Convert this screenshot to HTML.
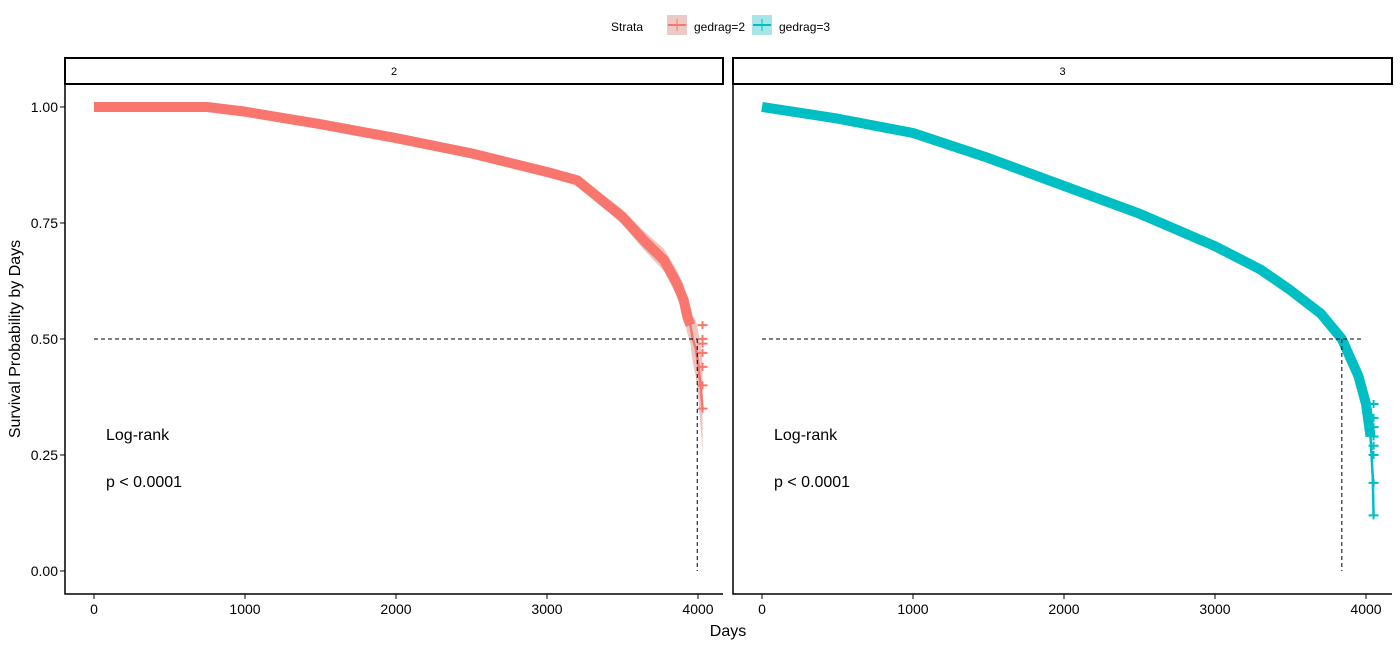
<!DOCTYPE html>
<html><head><meta charset="utf-8"><style>
body{margin:0;background:#fff;font-family:"Liberation Sans",Arial,sans-serif}
svg text{font-family:"Liberation Sans",Arial,sans-serif}
</style></head><body>
<svg id="chart" width="1400" height="646" viewBox="0 0 1400 646">
<g id="legend">
 <text x="611" y="31" font-size="12">Strata</text>
 <g>
  <rect x="667" y="15" width="20" height="20" fill="#ecc9c4"/>
  <line x1="668" y1="25" x2="686" y2="25" stroke="#f8766d" stroke-width="2"/>
  <line x1="677" y1="19" x2="677" y2="31" stroke="#f8766d" stroke-width="1"/>
  <text x="694" y="31" font-size="12">gedrag=2</text>
 </g>
 <g>
  <rect x="752" y="15" width="20" height="20" fill="#a7e6e6"/>
  <line x1="753" y1="25" x2="771" y2="25" stroke="#00bfc4" stroke-width="2"/>
  <line x1="762" y1="19" x2="762" y2="31" stroke="#00bfc4" stroke-width="1"/>
  <text x="779" y="31" font-size="12">gedrag=3</text>
 </g>
</g>
<g id="panels"></g>
<text x="20" y="339" font-size="16" text-anchor="middle" transform="rotate(-90 20 339)">Survival Probability by Days</text>
<text x="728" y="636" font-size="16" text-anchor="middle">Days</text>
</svg>
<script>
const xTicks=[0,1000,2000,3000,4000];
const yTicks=[0,0.25,0.5,0.75,1];
const yTickLabels=["0.00","0.25","0.50","0.75","1.00"];
const panelLabels=["2","3"];
const days2=[0,750,1000,1500,2000,2500,3000,3200,3500,3640,3775,3860,3905,3930,3950,3965,3985,4000,4010,4020,4030];
const surv2=[1,1,0.99,0.963,0.933,0.9,0.86,0.842,0.763,0.713,0.67,0.62,0.584,0.547,0.53,0.5,0.48,0.45,0.42,0.39,0.35];
const ci2=[0,0,0.003,0.005,0.006,0.007,0.009,0.011,0.016,0.02,0.024,0.028,0.032,0.036,0.04,0.05,0.06,0.07,0.08,0.09,0.1];
const days3=[0,500,1000,1500,2000,2500,3000,3300,3500,3700,3840,3950,4000,4030,4045,4050];
const surv3=[1,0.975,0.944,0.89,0.83,0.77,0.70,0.65,0.605,0.555,0.5,0.42,0.36,0.29,0.2,0.12];
const censor2=[0.53,0.5,0.49,0.47,0.44,0.40,0.35];
const censor3=[0.36,0.33,0.31,0.29,0.27,0.25,0.19,0.12];
const medians=[3995,3840];
const hlineEnd=[3995,3980];

const NS="http://www.w3.org/2000/svg";
const panels=[{x0:65,x1:723,zero:94,days:days2,surv:surv2,ci:ci2,col:"#f8766d",band:"#e9c6c1",censor:censor2,tailStart:3950},
              {x0:733,x1:1392,zero:762,days:days3,surv:surv3,ci:null,col:"#00bfc4",band:"#a7e6e6",censor:censor3,tailStart:4030}];
const Y=v=>571-v*464;
function mk(tag,attrs,parent){const e=document.createElementNS(NS,tag);for(const k in attrs)e.setAttribute(k,attrs[k]);parent.appendChild(e);return e;}
const root=document.getElementById('panels');
panels.forEach((p,pi)=>{
 const X=d=>p.zero+d*0.151;
 const g=mk('g',{},root);
 
 
 const strip=mk('rect',{x:p.x0,y:58,width:p.x1-p.x0,height:26,fill:'#fff',stroke:'#000','stroke-width':2},g);
 
 
 const st=mk('text',{x:(p.x0+p.x1)/2,y:75,'font-size':11,'text-anchor':'middle'},g);st.textContent=panelLabels[pi];
 
 
 const ax=mk('path',{d:`M${p.x0} 84 V594 H${p.x1}`,fill:'none',stroke:'#000','stroke-width':1.5},g);
 
 
 if(pi==0){yTicks.forEach((v,i)=>{
  mk('line',{x1:60,x2:65,y1:Y(v),y2:Y(v),stroke:'#000'},g);
  const t=mk('text',{x:58,y:Y(v)+5,'font-size':14,'text-anchor':'end'},g);t.textContent=yTickLabels[i];
  
  
 });}
 xTicks.forEach(d=>{
  mk('line',{x1:X(d),x2:X(d),y1:594,y2:599,stroke:'#000'},g);
  const t=mk('text',{x:X(d),y:614,'font-size':14,'text-anchor':'middle'},g);t.textContent=d;
  
  
 });
 if(p.ci){let up=[],lo=[];p.days.forEach((d,i)=>{up.push(X(d)+','+Y(Math.min(1,p.surv[i]+p.ci[i])));lo.unshift(X(d)+','+Y(p.surv[i]-p.ci[i]));});
  const b=mk('polygon',{points:up.concat(lo).join(' '),fill:p.band},g);
  
  }
 const main=[],tail=[];
 p.days.forEach((d,i)=>{const pt=X(d)+','+Y(p.surv[i]);if(d<=p.tailStart)main.push(pt);if(d>=p.tailStart)tail.push(pt);});
 const c=mk('polyline',{points:main.join(' '),fill:'none',stroke:p.col,'stroke-width':10,'stroke-linejoin':'round'},g);
 
 
 const tl=mk('polyline',{points:tail.join(' '),fill:'none',stroke:p.col,'stroke-width':2.5},g);
 
 
 const lastD=p.days[p.days.length-1];
 p.censor.forEach(v=>{
  const cm=mk('path',{d:`M${X(lastD)-5} ${Y(v)} h10 M${X(lastD)} ${Y(v)-4} v8`,stroke:p.col,'stroke-width':2},g);
  
  
 });
 const h=mk('line',{x1:X(0),x2:X(hlineEnd[pi]),y1:Y(0.5),y2:Y(0.5),stroke:'#000','stroke-dasharray':'4,3'},g);
 
 
 const v=mk('line',{x1:X(medians[pi]),x2:X(medians[pi]),y1:Y(0.5),y2:Y(0),stroke:'#000','stroke-dasharray':'4,3'},g);
 
 
 const t1=mk('text',{x:p.zero+12,y:440,'font-size':16},g);t1.textContent='Log-rank';
 
 
 const t2=mk('text',{x:p.zero+12,y:487,'font-size':16},g);t2.textContent='p < 0.0001';
 
 
});
</script>
</body></html>
